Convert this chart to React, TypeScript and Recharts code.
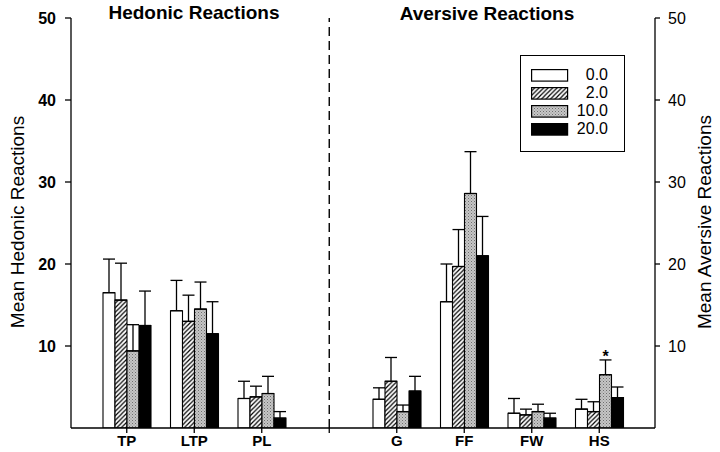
import React from "react";
import {
  ComposedChart, Bar, Line, XAxis, YAxis, ErrorBar, ReferenceLine, Legend, LabelList,
} from "recharts";

const FONT = "'Liberation Sans', Arial, Helvetica, sans-serif";

// category slots; the blank one holds the dashed divider
const categories = ["TP", "LTP", "PL", " ", "G", "FF", "FW", "HS"];
const doses = ["0.0", "2.0", "10.0", "20.0"];

// means per dose
const mean00 = [16.5, 14.3, 3.6, null, 3.5, 15.4, 1.8, 2.3];
const mean02 = [15.6, 13.0, 3.8, null, 5.7, 19.7, 1.6, 2.0];
const mean10 = [9.4, 14.5, 4.2, null, 2.0, 28.6, 2.0, 6.5];
const mean20 = [12.5, 11.5, 1.2, null, 4.5, 21.0, 1.2, 3.7];

// upper error (SEM) per dose
const sem00 = [4.1, 3.7, 2.1, null, 1.4, 4.6, 1.8, 1.2];
const sem02 = [4.5, 3.2, 1.3, null, 2.9, 4.5, 0.7, 1.2];
const sem10 = [3.2, 3.3, 2.1, null, 0.8, 5.1, 0.9, 1.8];
const sem20 = [4.2, 3.9, 0.8, null, 1.8, 4.8, 0.6, 1.3];

// significance marks (drawn over the 10.0 bars)
const marks = ["", "", "", "", "", "", "", "*"];

const yTicks = [10, 20, 30, 40, 50];

const fills = ["#ffffff", "url(#hatch)", "url(#stipple)", "#000000"];
const means = [mean00, mean02, mean10, mean20];
const sems = [sem00, sem02, sem10, sem20];

const data = categories.map((name, i) => {
  const row: Record<string, any> = { name, mark: marks[i] };
  means.forEach((m, s) => {
    row[`d${s}`] = m[i];
    row[`e${s}`] = sems[s][i] == null ? null : [0, sems[s][i]];
  });
  return row;
});

function CatTick({ x, y, payload }: { x?: number; y?: number; payload?: { value: string } }) {
  if (!payload || !payload.value.trim()) return null;
  return (
    <text x={x} y={(y ?? 0) + 11} textAnchor="middle" fontFamily={FONT} fontSize={15} fontWeight="bold" fill="#000">
      {payload.value}
    </text>
  );
}

function StarLabel(props: any) {
  const { x, y, width, value } = props;
  if (!value) return null;
  return (
    <text x={x + width / 2} y={y - 13} textAnchor="middle" fontFamily={FONT} fontSize={16} fontWeight="bold" fill="#000">
      {value}
    </text>
  );
}

function DoseLegend() {
  return (
    <div
      style={{
        border: "1.3px solid #000", width: 105, height: 97, boxSizing: "border-box",
        background: "#fff", fontFamily: FONT, fontSize: 16, paddingTop: 10, color: "#000",
      }}
    >
      {doses.map((d, i) => (
        <div key={d} style={{ display: "flex", alignItems: "center", height: 18 }}>
          <svg width={38} height={13} style={{ marginLeft: 10, display: "block" }}>
            <rect x={0.6} y={0.6} width={36} height={11.5} fill={fills[i]} stroke="#000" strokeWidth={1.2} />
          </svg>
          <span style={{ marginLeft: "auto", marginRight: 16, lineHeight: "18px" }}>{d}</span>
        </div>
      ))}
    </div>
  );
}

const axisStroke = { stroke: "#000", strokeWidth: 1.3 };

export default function App() {
  return (
    <div style={{ position: "absolute", left: 0, top: 0, width: 720, height: 452, background: "#fff" }}>
      <ComposedChart
        width={720}
        height={452}
        data={data}
        margin={{ top: 18, right: 0, bottom: 0, left: 0 }}
        barSize={12}
        barGap={0}
      >
        <defs>
          <pattern id="hatch" patternUnits="userSpaceOnUse" width="4.5" height="4.5">
            <rect width="4.5" height="4.5" fill="#fff" />
            <path d="M-1,1 l2,-2 M0,4.5 l4.5,-4.5 M3.5,5.5 l2,-2" stroke="#000" strokeWidth="1.2" />
          </pattern>
          <pattern id="stipple" patternUnits="userSpaceOnUse" width="3" height="3">
            <rect width="3" height="3" fill="#c6c6c6" />
            <rect x="0" y="0" width="1" height="1" fill="#6e6e6e" />
            <rect x="1.5" y="1.5" width="1" height="1" fill="#8c8c8c" />
          </pattern>
        </defs>

        <XAxis
          dataKey="name"
          height={24}
          padding={{ left: 22, right: 22 }}
          axisLine={axisStroke}
          tickLine={axisStroke}
          tickSize={5}
          tickMargin={2}
          tick={<CatTick />}
          interval={0}
        />
        <YAxis
          yAxisId="left"
          width={71}
          domain={[0, 50]}
          ticks={yTicks}
          allowDataOverflow
          axisLine={axisStroke}
          tickLine={axisStroke}
          tickSize={6}
          tickMargin={9}
          tick={{ fill: "#000", fontSize: 16, fontWeight: "bold", fontFamily: FONT }}
        />
        <YAxis
          yAxisId="right"
          orientation="right"
          width={65}
          domain={[0, 50]}
          ticks={yTicks}
          allowDataOverflow
          axisLine={axisStroke}
          tickLine={axisStroke}
          tickSize={5}
          tickMargin={8}
          tick={{ fill: "#000", fontSize: 16, fontFamily: FONT }}
        />

        <ReferenceLine yAxisId="left" x=" " stroke="#000" strokeWidth={1.4} strokeDasharray="9 5" />

        {doses.map((d, s) => (
          <Bar
            key={d}
            yAxisId="left"
            dataKey={`d${s}`}
            name={d}
            fill={fills[s]}
            stroke="#000"
            strokeWidth={1.1}
            isAnimationActive={false}
          >
            <ErrorBar dataKey={`e${s}`} width={6} stroke="#000" strokeWidth={1.3} direction="y" />
            {s === 2 && <LabelList dataKey="mark" content={StarLabel} />}
          </Bar>
        ))}

        {/* invisible series so the right-hand axis has something bound to it */}
        <Line
          yAxisId="right"
          dataKey="d0"
          stroke="none"
          dot={false}
          activeDot={false}
          legendType="none"
          isAnimationActive={false}
        />

        <Legend
          layout="horizontal"
          verticalAlign="middle"
          align="center"
          content={<DoseLegend />}
          wrapperStyle={{ left: 520, top: 55, width: 105 }}
        />

        <text x={194} y={19} textAnchor="middle" fontFamily={FONT} fontSize={19} fontWeight="bold" fill="#000">
          Hedonic Reactions
        </text>
        <text x={487} y={20} textAnchor="middle" fontFamily={FONT} fontSize={19} fontWeight="bold" fill="#000">
          Aversive Reactions
        </text>
        <text
          x={24} y={222} transform="rotate(-90, 24, 222)" textAnchor="middle"
          fontFamily={FONT} fontSize={19} fill="#000"
        >
          Mean Hedonic Reactions
        </text>
        <text
          x={711} y={222} transform="rotate(-90, 711, 222)" textAnchor="middle"
          fontFamily={FONT} fontSize={19} fill="#000"
        >
          Mean Aversive Reactions
        </text>
      </ComposedChart>
    </div>
  );
}
